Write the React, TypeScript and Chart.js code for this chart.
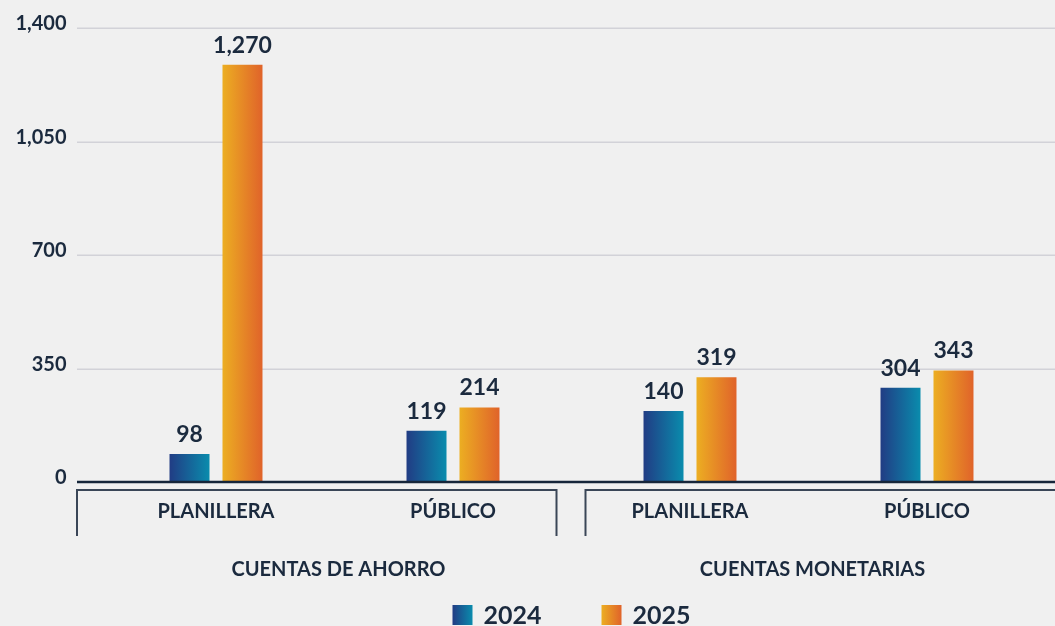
import React, { useEffect, useRef } from "react";
import { Chart, registerables } from "chart.js";

Chart.register(...registerables);

// ---------- data ----------
const groupNames = ["CUENTAS DE AHORRO", "CUENTAS MONETARIAS"];
const categories = ["PLANILLERA", "PÚBLICO", "PLANILLERA", "PÚBLICO"];
const categoryGroup = [0, 0, 1, 1];
const seriesNames = ["2024", "2025"];
// bar heights as drawn in the picture
const bars2024 = [86, 158, 219, 291];
const bars2025 = [1287, 230, 323, 344];
// value labels printed above the bars
const labels2024 = [98, 119, 140, 304];
const labels2025 = [1270, 214, 319, 343];
const yTicks = [0, 350, 700, 1050, 1400];

// ---------- style ----------
const FONT = "Lato";
const TEXT = "#1b2a3e";
const BG = "#f0f0f0";
const GRID = "#d2d2d8";
const AXIS = "#16263a";
const BRACKET = "#3a4657";
const STOPS: string[][] = [
  ["#213c84", "#0a8cad"],
  ["#ecae22", "#e0632a"],
];
const CAT_PCT = 0.447;
const BAR_PCT = 0.755;

const fmt = (v: number) => v.toLocaleString("en-US");

function barBg(di: number) {
  return (ctx: any) => {
    const chart = ctx.chart;
    const x = chart.scales && chart.scales.x;
    if (!x || ctx.type !== "data" || !chart.chartArea) return STOPS[di][0];
    const i = ctx.dataIndex;
    const c = x.getPixelForValue(i);
    const catW = Math.abs(x.getPixelForValue(1) - x.getPixelForValue(0));
    const slot = (catW * CAT_PCT) / 2;
    const center = c - slot + slot * di + slot / 2;
    const half = (slot * BAR_PCT) / 2;
    const g = chart.ctx.createLinearGradient(center - half, 0, center + half, 0);
    g.addColorStop(0, STOPS[di][0]);
    g.addColorStop(1, STOPS[di][1]);
    return g;
  };
}

const decorPlugin = {
  id: "decor",
  beforeDatasetsDraw(chart: any) {
    const { ctx, chartArea, scales } = chart;
    const y = scales.y;
    ctx.save();
    ctx.strokeStyle = GRID;
    ctx.lineWidth = 1.5;
    yTicks.forEach((v) => {
      if (v === 0) return;
      const py = Math.round(y.getPixelForValue(v)) + 0.25;
      ctx.beginPath();
      ctx.moveTo(chartArea.left - 20.5, py);
      ctx.lineTo(chart.width, py);
      ctx.stroke();
    });
    ctx.restore();
  },
  afterDatasetsDraw(chart: any) {
    const { ctx, chartArea, scales } = chart;
    const x = scales.x;
    const y = scales.y;
    ctx.save();
    // zero axis line
    const py0 = y.getPixelForValue(0);
    ctx.strokeStyle = AXIS;
    ctx.lineWidth = 2.5;
    ctx.beginPath();
    ctx.moveTo(chartArea.left - 20.5, py0);
    ctx.lineTo(chart.width, py0);
    ctx.stroke();

    // value labels
    const allLabels = [labels2024, labels2025];
    ctx.fillStyle = TEXT;
    ctx.font = `bold 23px ${FONT}`;
    ctx.textAlign = "center";
    ctx.textBaseline = "alphabetic";
    chart.data.datasets.forEach((_: any, di: number) => {
      const meta = chart.getDatasetMeta(di);
      meta.data.forEach((el: any, i: number) => {
        ctx.fillText(fmt(allLabels[di][i]), el.x, el.y - 12);
      });
    });

    // group brackets and group labels
    const catW = Math.abs(x.getPixelForValue(1) - x.getPixelForValue(0));
    const topY = py0 + 8;
    const botY = py0 + 54;
    groupNames.forEach((name, gi) => {
      const idx = categoryGroup
        .map((g, i) => (g === gi ? i : -1))
        .filter((i) => i >= 0);
      const first = x.getPixelForValue(idx[0]);
      const last = x.getPixelForValue(idx[idx.length - 1]);
      const left = gi === 0 ? first - catW / 2 - 20.5 : first - catW / 2 + 14;
      const right = gi === 0 ? last + catW / 2 - 15 : last + catW / 2 + 20.5;
      ctx.strokeStyle = BRACKET;
      ctx.lineWidth = 2;
      ctx.beginPath();
      ctx.moveTo(left, botY);
      ctx.lineTo(left, topY);
      ctx.lineTo(right, topY);
      ctx.lineTo(right, botY);
      ctx.stroke();
      ctx.fillStyle = TEXT;
      ctx.font = `bold 20px ${FONT}`;
      ctx.textAlign = "center";
      ctx.textBaseline = "middle";
      ctx.fillText(name, (first + last) / 2 + 4, py0 + 88);
    });

    // legend
    ctx.font = `bold 25px ${FONT}`;
    const box = 20;
    const gapBox = 11;
    const gapItem = 60;
    const widths = seriesNames.map((s) => box + gapBox + ctx.measureText(s).width);
    const total = widths.reduce((a, b) => a + b, 0) + gapItem * (seriesNames.length - 1);
    let lx = (chartArea.left + chartArea.right) / 2 - total / 2;
    const ly = py0 + 133;
    seriesNames.forEach((s, si) => {
      const g = ctx.createLinearGradient(lx, 0, lx + box, 0);
      g.addColorStop(0, STOPS[si][0]);
      g.addColorStop(1, STOPS[si][1]);
      ctx.fillStyle = g;
      ctx.fillRect(lx, ly - box / 2, box, box);
      ctx.fillStyle = TEXT;
      ctx.textAlign = "left";
      ctx.textBaseline = "middle";
      ctx.fillText(s, lx + box + gapBox, ly + 1);
      lx += widths[si] + gapItem;
    });
    ctx.restore();
  },
};

export default function App() {
  const ref = useRef<HTMLCanvasElement | null>(null);

  useEffect(() => {
    document.body.style.margin = "0";
    document.body.style.background = BG;
    if (!ref.current) return;
    const chart = new Chart(ref.current, {
      type: "bar",
      data: {
        labels: categories,
        datasets: [
          {
            label: seriesNames[0],
            data: bars2024,
            backgroundColor: barBg(0),
            categoryPercentage: CAT_PCT,
            barPercentage: BAR_PCT,
          },
          {
            label: seriesNames[1],
            data: bars2025,
            backgroundColor: barBg(1),
            categoryPercentage: CAT_PCT,
            barPercentage: BAR_PCT,
          },
        ],
      },
      options: {
        animation: false,
        responsive: false,
        maintainAspectRatio: false,
        layout: { padding: { top: 28, right: 9.5, bottom: 0, left: 0 } },
        plugins: {
          legend: { display: false },
          tooltip: { enabled: false },
        },
        scales: {
          x: {
            grid: { display: false, drawTicks: false },
            border: { display: false },
            ticks: {
              color: TEXT,
              font: { family: FONT, size: 20, weight: "bold" },
              padding: 18,
              maxRotation: 0,
              autoSkip: false,
            },
            afterFit: (s: any) => {
              s.height = 144;
              s.paddingLeft = 0;
              s.paddingRight = 0;
            },
          },
          y: {
            min: 0,
            max: 1400,
            afterBuildTicks: (s: any) => {
              s.ticks = yTicks.map((v) => ({ value: v }));
            },
            grid: { display: false, drawTicks: false },
            border: { display: false },
            ticks: {
              color: TEXT,
              font: { family: FONT, size: 20, weight: "bold" },
              padding: 31,
              labelOffset: -4,
              callback: (v: any) => fmt(Number(v)),
            },
            afterFit: (s: any) => {
              s.width = 97.5;
              s.paddingTop = 0;
              s.paddingBottom = 0;
            },
          },
        },
      },
      plugins: [decorPlugin],
    });
    return () => chart.destroy();
  }, []);

  return (
    <div style={{ width: 1055, height: 626, background: BG, overflow: "hidden" }}>
      <canvas ref={ref} width={1055} height={626} style={{ display: "block" }} />
    </div>
  );
}
